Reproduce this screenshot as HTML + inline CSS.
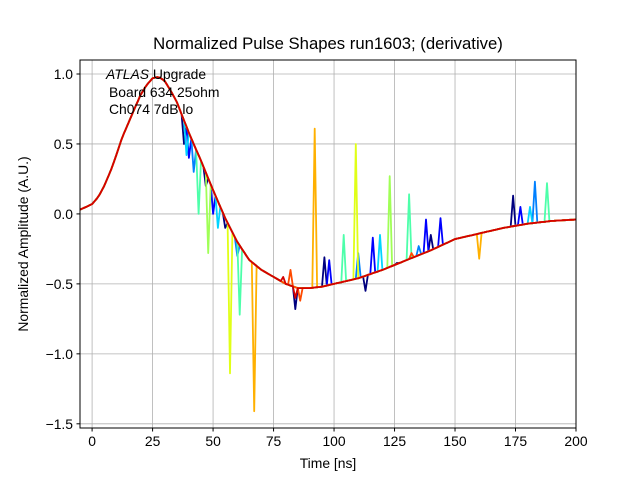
<!DOCTYPE html>
<html><head><meta charset="utf-8"><style>
body{margin:0;background:#fff}
svg text{font-family:"Liberation Sans","DejaVu Sans",sans-serif;fill:#000}
</style></head><body>
<svg id="chart" width="640" height="480" viewBox="0 0 640 480" xmlns="http://www.w3.org/2000/svg">
<rect width="640" height="480" fill="#fff"/>
<text x="328" y="49" font-size="16.7" text-anchor="middle">Normalized Pulse Shapes run1603; (derivative)</text>
<g id="grid"></g>
<g id="series"></g>
<rect x="80" y="60" width="496" height="368" fill="none" stroke="#000" stroke-width="1"/>
<g id="ticks"></g>
<text x="328" y="468" font-size="13.9" text-anchor="middle">Time [ns]</text>
<text transform="translate(28,244) rotate(-90)" font-size="13.9" text-anchor="middle">Normalized Amplitude (A.U.)</text>
<g font-size="13.9">
<text x="106" y="79"><tspan font-style="italic">ATLAS</tspan> Upgrade</text>
<text x="109" y="97">Board 634 25ohm</text>
<text x="109" y="114">Ch074 7dB lo</text>
</g>
</svg>
<script>
const baseT=[-5,-2.5,0,2.5,5,7.5,10,12.5,15,17.5,20,22.5,25,27.5,30,32.5,35,40,45,50,55,60,65,70,75,80,85,90,95,100,110,120,130,140,150,160,170,180,190,200];
const baseV=[0.03,0.05,0.07,0.12,0.20,0.30,0.42,0.55,0.65,0.75,0.85,0.92,0.97,0.98,0.95,0.88,0.80,0.58,0.38,0.17,-0.03,-0.20,-0.33,-0.40,-0.45,-0.50,-0.53,-0.53,-0.52,-0.50,-0.46,-0.40,-0.33,-0.26,-0.18,-0.14,-0.10,-0.07,-0.05,-0.04];
const seriesColors=["#00007f","#0000ff","#0080ff","#00d4ff","#4dffaa","#a0ff56","#e0ff17","#ffb000","#ff4a00","#d40000"];
const spikesDarkBlue=[[38,0.5],[47,0.2],[55,-0.1],[84,-0.68],[96,-0.31],[113,-0.55],[126,-0.35],[140,-0.15],[174,0.13]];
const spikesBlue=[[40,0.4],[50,0.0],[98,-0.33],[116,-0.17],[138,-0.04],[144,-0.03],[177,0.05]];
const spikesAzure=[[42,0.3],[60,-0.3],[110,-0.28],[135,-0.23],[183,0.23]];
const spikesCyan=[[39,0.42],[52,-0.1],[119,-0.15],[181,0.05]];
const spikesAqua=[[44,0.0],[61,-0.72],[104,-0.15],[131,0.14],[188,0.22]];
const spikesLime=[[48,-0.28],[123,0.27]];
const spikesYellow=[[57,-1.14],[109,0.5]];
const spikesOrange=[[67,-1.41],[92,0.61],[160,-0.32]];
const spikesOrangeRed=[[82,-0.40],[86,-0.62],[132,-0.28]];
const spikesRed=[[79,-0.45],[84,-0.60]];
const allSpikes=[spikesDarkBlue,spikesBlue,spikesAzure,spikesCyan,spikesAqua,spikesLime,spikesYellow,spikesOrange,spikesOrangeRed,spikesRed];
const xTicks=[0,25,50,75,100,125,150,175,200];
const yTicks=[-1.5,-1.0,-0.5,0.0,0.5,1.0];
const xMin=-5,xMax=200,yMin=-1.53,yMax=1.1;
const L=80,R=576,T=60,B=428;
const sx=v=>L+(v-xMin)/(xMax-xMin)*(R-L);
const sy=v=>B-(v-yMin)/(yMax-yMin)*(B-T);
function base(t){for(let i=0;i<baseT.length-1;i++){if(t<=baseT[i+1]){const f=(t-baseT[i])/(baseT[i+1]-baseT[i]);return baseV[i]+f*(baseV[i+1]-baseV[i]);}}return baseV[baseV.length-1];}
const NS="http://www.w3.org/2000/svg";
const grid=document.getElementById('grid'),ticks=document.getElementById('ticks'),ser=document.getElementById('series');
xTicks.forEach(v=>{
 const x=sx(v);
 const g=document.createElementNS(NS,'line');
 
 
 g.setAttribute('x1',x);g.setAttribute('x2',x);g.setAttribute('y1',T);g.setAttribute('y2',B);g.setAttribute('stroke','#b0b0b0');g.setAttribute('stroke-width','0.8');grid.appendChild(g);
 const tk=document.createElementNS(NS,'line');
 
 
 tk.setAttribute('x1',x);tk.setAttribute('x2',x);tk.setAttribute('y1',B);tk.setAttribute('y2',B+3.5);tk.setAttribute('stroke','#000');ticks.appendChild(tk);
 const t=document.createElementNS(NS,'text');
 
 
 t.setAttribute('x',x);t.setAttribute('y',B+18);t.setAttribute('font-size','13.9');t.setAttribute('text-anchor','middle');t.textContent=String(v);ticks.appendChild(t);
});
yTicks.forEach(v=>{
 const y=sy(v);
 const g=document.createElementNS(NS,'line');
 
 
 g.setAttribute('x1',L);g.setAttribute('x2',R);g.setAttribute('y1',y);g.setAttribute('y2',y);g.setAttribute('stroke','#b0b0b0');g.setAttribute('stroke-width','0.8');grid.appendChild(g);
 const tk=document.createElementNS(NS,'line');
 
 
 tk.setAttribute('x1',L-3.5);tk.setAttribute('x2',L);tk.setAttribute('y1',y);tk.setAttribute('y2',y);tk.setAttribute('stroke','#000');ticks.appendChild(tk);
 const t=document.createElementNS(NS,'text');
 
 
 t.setAttribute('x',L-7);t.setAttribute('y',y+5);t.setAttribute('font-size','13.9');t.setAttribute('text-anchor','end');t.textContent=v.toFixed(1).replace('-','\u2212');ticks.appendChild(t);
});
allSpikes.forEach((sp,si)=>{
 const map={};sp.forEach(p=>{map[Math.round(p[0])]=p[1];});
 const pts=[];
 for(let t=-5;t<=200;t+=1){
   let v=(t in map)?map[t]:base(t);
   pts.push(sx(t).toFixed(1)+','+sy(v).toFixed(1));
 }
 const pl=document.createElementNS(NS,'polyline');
 
 
 pl.setAttribute('points',pts.join(' '));pl.setAttribute('fill','none');pl.setAttribute('stroke',seriesColors[si]);pl.setAttribute('stroke-width','1.8');pl.setAttribute('stroke-linejoin','round');
 ser.appendChild(pl);
});
</script>
</body></html>
